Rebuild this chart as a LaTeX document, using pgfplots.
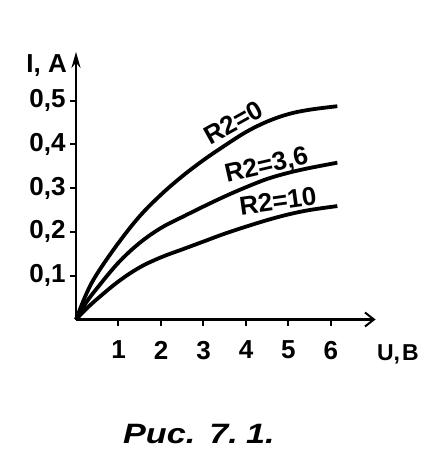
\documentclass[border=0pt]{standalone}
\usepackage{fontspec}
\setmainfont{Liberation Sans}
\newfontfamily\capfont[FakeStretch=1.22]{Liberation Sans}
\usepackage{pgfplots}
\pgfplotsset{compat=1.18}
\usetikzlibrary{arrows.meta}

\begin{document}
\begin{tikzpicture}
\useasboundingbox (-76pt,-152.5pt) rectangle (362pt,319.5pt);
\begin{axis}[
    at={(0,0)}, anchor=origin,
    scale only axis,
    width=299.6pt, height=267.6pt,
    xmin=0, xmax=7.05,
    ymin=0, ymax=0.611,
    axis lines=left,
    axis line style={line width=2.4pt},
    x axis line style={-{Straight Barb[length=9pt,width=14pt,line width=2pt]}},
    y axis line style={-{Stealth[length=16pt,width=9pt]}},
    xtick={1,2,3,4,5,6},
    ytick={0.1,0.2,0.3,0.4,0.5},
    tick align=outside,
    major tick length=6pt,
    tick style={line width=2pt, black},
    ticklabel style={font=\bfseries\fontsize{26}{30}\selectfont},
    xticklabel style={yshift=-12pt},
    yticklabel style={xshift=-1pt},
    /pgf/number format/assume math mode=true,
    /pgf/number format/use comma,
    /pgf/number format/fixed,
    /pgf/number format/precision=1,
    clip=false,
]
% R2=0
\addplot[line width=3.8pt, smooth, tension=0.6] coordinates {
    (0,0) (0.25,0.06) (0.5,0.105) (1,0.175) (1.5,0.236) (2,0.285)
    (2.5,0.327) (3,0.364) (3.5,0.397) (4,0.428) (4.5,0.452)
    (5,0.469) (5.5,0.479) (6.15,0.487)
};
% R2=3,6
\addplot[line width=3.8pt, smooth, tension=0.6] coordinates {
    (0,0) (0.25,0.04) (0.5,0.072) (1,0.13) (1.5,0.175) (2,0.209)
    (2.5,0.234) (3,0.258) (3.5,0.281) (4,0.302) (4.5,0.321)
    (5,0.335) (5.5,0.346) (6.15,0.358)
};
% R2=10
\addplot[line width=3.8pt, smooth, tension=0.6] coordinates {
    (0,0) (0.25,0.025) (0.5,0.047) (1,0.087) (1.5,0.119) (2,0.142)
    (2.5,0.16) (3,0.178) (3.5,0.196) (4,0.212) (4.5,0.227)
    (5,0.24) (5.5,0.25) (6.15,0.259)
};
\node[rotate=29, font=\bfseries\fontsize{26}{30}\selectfont] at (axis cs:3.70,0.450) {R2=0};
\node[rotate=13, font=\bfseries\fontsize{26}{30}\selectfont] at (axis cs:4.49,0.350) {R2=3,6};
\node[rotate=8, font=\bfseries\fontsize{26}{30}\selectfont] at (axis cs:4.75,0.270) {R2=10};
\node[anchor=base east, inner sep=0pt, font=\bfseries\fontsize{26}{30}\selectfont] at (axis cs:-0.21,0.565) {I, A};
\node[anchor=base west, inner sep=0pt, font=\bfseries\fontsize{23}{28}\selectfont] at (axis cs:7.08,-0.0925) {U,\kern2pt B};
\end{axis}
\node[anchor=base west, inner sep=0pt, font=\capfont\fontsize{28}{32}\selectfont\bfseries\itshape] at (47pt,-123.5pt) {Рис.\hspace{0.5em}7.\hspace{0.3em}1.};
\end{tikzpicture}
\end{document}
